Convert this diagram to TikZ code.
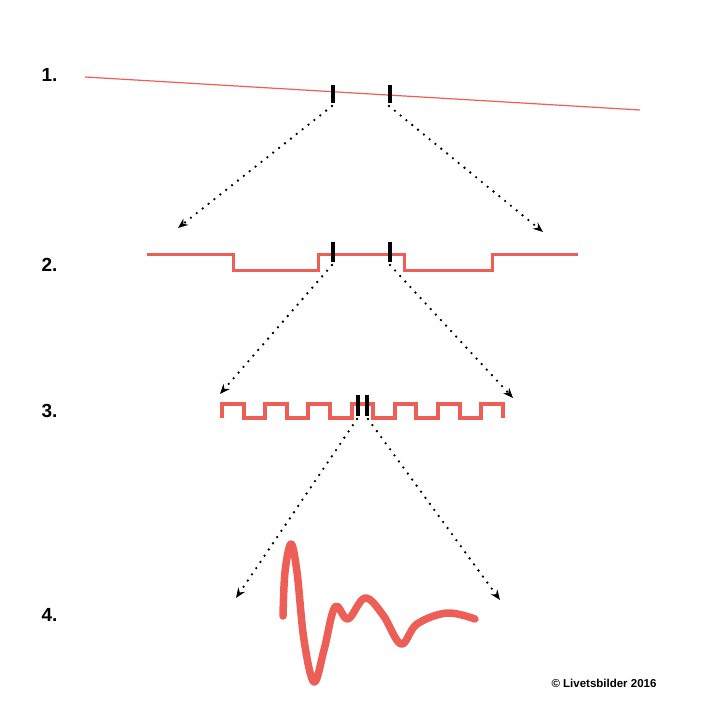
\documentclass[tikz,border=0pt]{standalone}
\usepackage{fontspec}
\setmainfont{Liberation Sans}
\usetikzlibrary{arrows.meta}
\definecolor{wavered}{RGB}{237,94,86}
\tikzset{
  steplabel/.style={anchor=west, font=\fontsize{19}{22}\selectfont\bfseries},
  zoomarrow/.style={line width=2.6pt, line cap=round, dash pattern=on 0pt off 7.5pt,
    -{Stealth[length=10pt,width=8pt,line cap=butt]}},
  cut/.style={line width=4pt},
}
\begin{document}
\begin{tikzpicture}[x=1pt, y=-1pt]
    \useasboundingbox (0,0) rectangle (720,711);

    % Step labels
    \node[steplabel] (l1) at (38,75) {1.};
    \node[steplabel] (l2) at (38,265) {2.};
    \node[steplabel] (l3) at (38,411) {3.};
    \node[steplabel] (l4) at (38,615) {4.};

    % Line 1
    \draw[wavered, line width=1.2pt] (85,77) -- (640,110);
    \draw[cut] (333,85) -- (333,103); \draw[cut] (390,85) -- (390,103);
    \coordinate (a1) at (332,106); \coordinate (b1) at (389,106);
    \coordinate (a2) at (178,228); \coordinate (b2) at (543,232);

    % Line 2
    \draw[wavered, line width=3pt] (147,255) -- (233,255) -- (233,271) -- (318,271) -- (318,255)
      -- (404,255) -- (404,271) -- (492,271) -- (492,255) -- (578,255);
    \draw[cut] (333,242) -- (333,262); \draw[cut] (390,242) -- (390,262);
    \coordinate (c1) at (332,265); \coordinate (d1) at (390,265);
    \coordinate (c2) at (220,394); \coordinate (d2) at (513,398);

    % Line 3
    \draw[wavered, line width=4pt] (222,418)
      -- (222,404) -- (243.6,404) -- (243.6,418) -- (265.2,418)
      -- (265.2,404) -- (286.8,404) -- (286.8,418) -- (308.4,418)
      -- (308.4,404) -- (330,404) -- (330,418) -- (351.6,418)
      -- (351.6,404) -- (373.2,404) -- (373.2,418) -- (394.8,418)
      -- (394.8,404) -- (416.4,404) -- (416.4,418) -- (438,418)
      -- (438,404) -- (459.6,404) -- (459.6,418) -- (481.2,418)
      -- (481.2,404) -- (502.8,404) -- (502.8,418);
    \draw[cut] (358,395) -- (358,416); \draw[cut] (367,395) -- (367,416);
    \coordinate (e1) at (357,419); \coordinate (f1) at (368,419);
    \coordinate (e2) at (236,598); \coordinate (f2) at (500,600);

    % Line 4
    \draw[wavered, line width=7.5pt, line cap=round, line join=round] plot[smooth, tension=0.6] coordinates {
      (283,616) (285,572) (291,544) (297,572) (304,640) (314,682) (324,650) (335,607)
      (348,619) (365,598) (383,615) (401,644) (417,624) (447,613) (475,619)};

    % Zoom arrows
    \draw[zoomarrow] (a1) -- (a2);
    \draw[zoomarrow] (b1) -- (b2);
    \draw[zoomarrow] (c1) -- (c2);
    \draw[zoomarrow] (d1) -- (d2);
    \draw[zoomarrow] (e1) -- (e2);
    \draw[zoomarrow] (f1) -- (f2);

    % Credit
    \node[font=\fontsize{11.5}{13}\selectfont\bfseries] (credit) at (604,683) {© Livetsbilder 2016};
\end{tikzpicture}
\end{document}
